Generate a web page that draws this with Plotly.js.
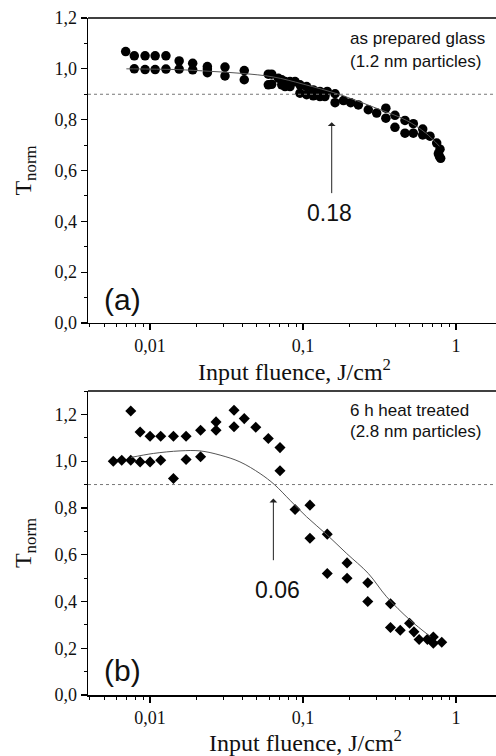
<!DOCTYPE html>
<html>
<head>
<meta charset="utf-8">
<script src="https://cdn.plot.ly/plotly-3.0.1.min.js"></script>
<style>html,body{margin:0;padding:0;background:#fff;}#chart{width:496px;height:756px;}</style>
</head>
<body>
<div id="chart"></div>
<script>
// ---- Panel (a): as prepared glass ----
const aFluence = [0.00693,0.00789,0.00928,0.0108,0.0127,0.00789,0.00928,0.0108,0.0127,
  0.0155,0.0155,0.019,0.019,0.0237,0.0237,0.0237,0.0309,0.0309,0.0413,0.0413,
  0.0593,0.0624,0.0593,0.0624,
  0.069,0.0726,0.0763,0.0822,0.0887,0.0955,0.1056,0.1167,0.129,0.139,
  0.0726,0.0763,0.0822,0.0955,0.1056,0.1167,0.129,0.139,
  0.144,0.162,0.162,0.184,0.205,0.230,0.267,0.303,0.348,0.348,0.399,0.399,
  0.464,0.464,0.526,0.526,0.606,0.606,0.676,0.748,0.786,0.767,0.794,0.78];
const aTnorm = [1.068,1.051,1.051,1.051,1.051,1.0,0.997,0.997,0.999,
  1.031,0.999,1.022,0.996,1.009,0.999,0.985,1.007,0.972,0.993,0.957,
  0.979,0.979,0.937,0.939,
  0.963,0.957,0.950,0.950,0.950,0.937,0.930,0.917,0.911,0.904,
  0.937,0.930,0.930,0.904,0.898,0.894,0.891,0.891,
  0.911,0.902,0.867,0.875,0.867,0.858,0.839,0.826,0.845,0.806,0.817,0.770,
  0.797,0.747,0.784,0.747,0.763,0.740,0.735,0.708,0.684,0.666,0.648,0.655];
const aFitX = [0.007,0.01,0.015,0.025,0.04,0.064,0.1,0.175,0.29,0.475,0.635,0.78];
const aFitY = [1.0,0.999,0.997,0.99,0.982,0.968,0.94,0.898,0.849,0.797,0.747,0.695];

// ---- Panel (b): 6 h heat treated ----
const bFluence = [0.00575,0.00653,0.00748,0.00748,0.00861,0.00861,0.0100,0.0100,0.01174,0.01174,
  0.01422,0.01422,0.0172,0.0172,0.0214,0.0214,0.027,0.027,0.0354,0.0354,
  0.0413,0.0491,0.0593,0.0707,0.0707,0.0887,0.111,0.111,0.144,0.144,
  0.194,0.194,0.265,0.265,0.373,0.373,0.432,0.497,0.531,0.574,0.650,0.711,0.711,0.807];
const bTnorm = [1.0,1.004,1.004,1.215,0.997,1.125,0.997,1.107,1.004,1.107,
  1.107,0.926,1.107,1.007,1.132,1.019,1.168,1.132,1.218,1.147,
  1.182,1.145,1.097,1.058,0.959,0.793,0.812,0.670,0.688,0.520,
  0.565,0.499,0.480,0.400,0.390,0.289,0.277,0.307,0.270,0.237,0.238,0.248,0.221,0.226];
const bFitX = [0.0075,0.0105,0.0157,0.0212,0.0287,0.0387,0.0524,0.065,0.0822,0.1056,0.144,0.193,0.267,0.352,0.5,0.68];
const bFitY = [1.016,1.033,1.044,1.044,1.026,0.997,0.947,0.9,0.833,0.762,0.684,0.605,0.52,0.42,0.321,0.25];

// ---- axes / labels ----
const xTickVals = [0.01,0.1,1];
const xTickText = ['0,01','0,1','1'];
const aYTickVals = [0,0.2,0.4,0.6,0.8,1.0,1.2];
const aYTickText = ['0,0','0,2','0,4','0,6','0,8','1,0','1,2'];
const bYTickVals = [0,0.2,0.4,0.6,0.8,1.0,1.2];
const bYTickText = ['0,0','0,2','0,4','0,6','0,8','1,0','1,2'];
const xRange = [0.00393, 1.826];
const aYRange = [0, 1.2];
const bYRange = [0, 1.3];
const threshold = 0.9;
const xTitle = 'Input fluence, J/cm<sup>2</sup>';
const yTitle = 'T<sub>norm</sub>';

const aArrowX = 0.154, aArrowTip = 0.79, aArrowTail = 0.505;
const aArrowLabel = '0.18', aLabelX = 0.15, aLabelY = 0.433;
const bArrowX = 0.064, bArrowTip = 0.84, bArrowTail = 0.57;
const bArrowLabel = '0.06', bLabelX = 0.068, bLabelY = 0.449;

const aNote1 = 'as prepared glass', aNote2 = '(1.2 nm particles)';
const bNote1 = '6 h heat treated', bNote2 = '(2.8 nm particles)';
const noteX = 0.197;

const serif = '"Liberation Serif", "Times New Roman", serif';
const sans = '"Liberation Sans", Arial, sans-serif';
const L = Math.log10;

const traces = [
  {x:aFluence, y:aTnorm, xaxis:'x', yaxis:'y', mode:'markers', type:'scatter',
   marker:{symbol:'circle', size:9.5, color:'#000'}, hoverinfo:'skip'},
  {x:aFitX, y:aFitY, xaxis:'x', yaxis:'y', mode:'lines', type:'scatter',
   line:{color:'#555', width:1, shape:'spline'}, hoverinfo:'skip'},
  {x:bFluence, y:bTnorm, xaxis:'x2', yaxis:'y2', mode:'markers', type:'scatter',
   marker:{symbol:'diamond', size:8.5, color:'#000'}, hoverinfo:'skip'},
  {x:bFitX, y:bFitY, xaxis:'x2', yaxis:'y2', mode:'lines', type:'scatter',
   line:{color:'#555', width:1, shape:'spline'}, hoverinfo:'skip'}
];

function xAxis(anchor){
  return {type:'log', range:[L(xRange[0]), L(xRange[1])], domain:[0,1], anchor:anchor,
    showline:true, linecolor:'#000', linewidth:1.5, ticks:'outside', ticklen:6, tickwidth:1.2,
    tickcolor:'#000', tickmode:'array', tickvals:xTickVals, ticktext:xTickText,
    tickfont:{family:serif, size:18, color:'#111'}, showgrid:false, zeroline:false,
    minor:{dtick:'D1', ticks:'outside', ticklen:3, tickwidth:1, tickcolor:'#000', showgrid:false},
    automargin:false};
}
function yAxis(anchor, dom, rng, tv, tt){
  return {domain:dom, range:rng, anchor:anchor, showline:true, linecolor:'#000', linewidth:1.5,
    ticks:'outside', ticklen:6, tickwidth:1.2, tickcolor:'#000', tickmode:'array',
    tickvals:tv, ticktext:tt, tickfont:{family:serif, size:18, color:'#111'},
    showgrid:false, zeroline:false,
    minor:{tickmode:'linear', tick0:0, dtick:0.1, ticks:'outside', ticklen:3, tickwidth:1, tickcolor:'#000', showgrid:false},
    title:{text:yTitle, font:{family:serif, size:24, color:'#111'}, standoff:16},
    automargin:false};
}

const layout = {
  width:496, height:756, margin:{l:88, r:0, t:18, b:61},
  paper_bgcolor:'#fff', plot_bgcolor:'#fff', showlegend:false,
  xaxis: xAxis('y'),
  yaxis: yAxis('x', [0.5495,1], aYRange, aYTickVals, aYTickText),
  xaxis2: xAxis('y2'),
  yaxis2: yAxis('x2', [0,0.449], bYRange, bYTickVals, bYTickText),
  shapes:[
    {type:'line', xref:'x domain', yref:'y domain', x0:0, x1:1, y0:1, y1:1, line:{color:'#000', width:1.5}},
    {type:'line', xref:'x2 domain', yref:'y2 domain', x0:0, x1:1, y0:1, y1:1, line:{color:'#000', width:1.5}},
    {type:'line', xref:'x domain', yref:'y', x0:0, x1:1, y0:threshold, y1:threshold, line:{color:'#777', width:1, dash:'dot'}},
    {type:'line', xref:'x2 domain', yref:'y2', x0:0, x1:1, y0:threshold, y1:threshold, line:{color:'#777', width:1, dash:'dot'}}
  ],
  annotations:[
    {xref:'paper', yref:'paper', x:0.507, y:0.480, xanchor:'center', yanchor:'middle', text:xTitle,
     showarrow:false, font:{family:serif, size:24, color:'#111'}},
    {xref:'paper', yref:'paper', x:0.534, y:-0.068, xanchor:'center', yanchor:'middle', text:xTitle,
     showarrow:false, font:{family:serif, size:24, color:'#111'}},
    {xref:'x', yref:'y', axref:'x', ayref:'y', x:L(aArrowX), y:aArrowTip, ax:L(aArrowX), ay:aArrowTail,
     text:'', showarrow:true, arrowhead:1, arrowsize:1.3, arrowwidth:1, arrowcolor:'#222'},
    {xref:'x2', yref:'y2', axref:'x2', ayref:'y2', x:L(bArrowX), y:bArrowTip, ax:L(bArrowX), ay:bArrowTail,
     text:'', showarrow:true, arrowhead:1, arrowsize:1.3, arrowwidth:1, arrowcolor:'#222'},
    {xref:'x', yref:'y', x:L(aLabelX), y:aLabelY, text:aArrowLabel, showarrow:false, font:{family:sans, size:23, color:'#111'}},
    {xref:'x2', yref:'y2', x:L(bLabelX), y:bLabelY, text:bArrowLabel, showarrow:false, font:{family:sans, size:23, color:'#111'}},
    {xref:'x', yref:'y', x:L(noteX), y:1.118, text:aNote1, xanchor:'left', showarrow:false, font:{family:sans, size:17, color:'#111'}},
    {xref:'x', yref:'y', x:L(noteX), y:1.028, text:aNote2, xanchor:'left', showarrow:false, font:{family:sans, size:17, color:'#111'}},
    {xref:'x2', yref:'y2', x:L(noteX), y:1.218, text:bNote1, xanchor:'left', showarrow:false, font:{family:sans, size:17, color:'#111'}},
    {xref:'x2', yref:'y2', x:L(noteX), y:1.125, text:bNote2, xanchor:'left', showarrow:false, font:{family:sans, size:17, color:'#111'}},
    {xref:'x', yref:'y', x:L(0.00656), y:0.094, text:'(a)', showarrow:false, font:{family:sans, size:30, color:'#111'}},
    {xref:'x2', yref:'y2', x:L(0.00656), y:0.104, text:'(b)', showarrow:false, font:{family:sans, size:30, color:'#111'}}
  ]
};

Plotly.newPlot('chart', traces, layout, {staticPlot:true, displayModeBar:false});
</script>
</body>
</html>
